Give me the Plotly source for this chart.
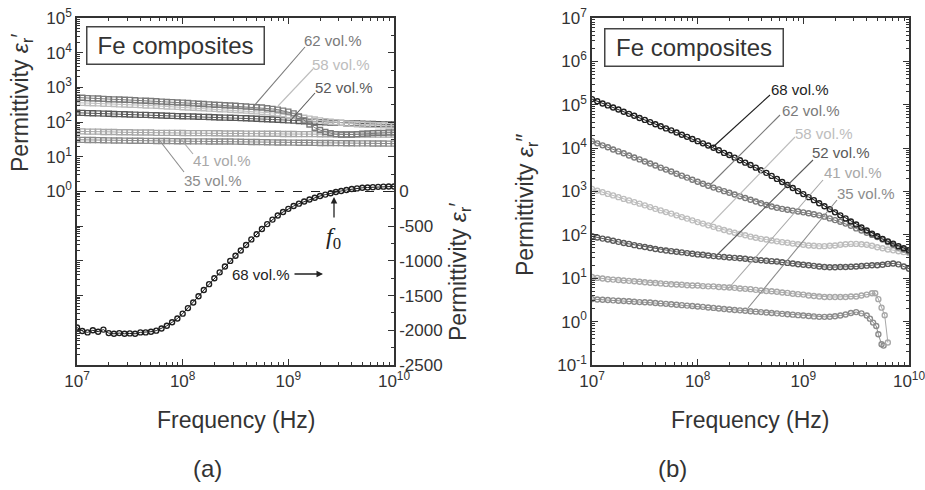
import numpy as np
import plotly.graph_objects as go

# ---------------- data ----------------
# frequency sweep (Hz), 0.05-decade steps from 1e7 to 1e10
FREQ = list(np.logspace(7, 10, 61))
TAIL41_F = [4.79e9, 5.13e9, 5.50e9, 5.89e9, 6.31e9]
TAIL35_F = [4.27e9, 4.57e9, 4.90e9, 5.13e9, 5.50e9, 5.75e9]

# (a) real permittivity eps_r' (left log axis)
EPS1_62 = [513, 501, 490, 484, 479, 468, 457, 452, 447, 442, 437, 427, 417, 412, 407, 398, 389, 380, 376, 367,
           363, 355, 347, 339, 331, 324, 316, 313, 305, 302, 295, 288, 282, 275, 269, 263, 251, 240, 229, 214,
           200, 178, 145, 112, 85, 69, 59, 52, 48, 45, 44, 44, 44, 45, 46, 47, 48, 49, 49, 50, 50]
EPS1_58 = [363, 359, 355, 351, 347, 339, 335, 331, 324, 320, 316, 313, 309, 302, 299, 295, 288, 282, 279, 275,
           269, 263, 260, 254, 251, 245, 240, 234, 232, 226, 224, 219, 214, 209, 204, 197, 191, 184, 178, 168,
           158, 150, 141, 133, 126, 119, 112, 107, 102, 99, 95, 92, 89, 87, 85, 84, 83, 82, 81, 80, 79]
EPS1_52 = [186, 184, 182, 180, 178, 176, 174, 172, 170, 168, 166, 164, 162, 161, 159, 157, 155, 153, 151, 149,
           148, 146, 145, 143, 141, 140, 138, 136, 135, 133, 132, 130, 129, 127, 125, 123, 121, 119, 117, 115,
           112, 110, 108, 106, 104, 102, 100, 98, 97, 96, 95, 93, 92, 91, 90, 89, 88, 87, 86, 86, 85]
EPS1_41 = [54, 54, 53, 53, 53, 52, 52, 52, 51, 51, 51, 50, 50, 50, 50, 49, 49, 49, 49, 49,
           48.5, 48, 48, 48, 48, 48, 47.5, 47.5, 47, 47, 47, 47, 46.5, 46.5, 46.5, 46, 46, 46, 46, 45.5,
           45.5, 45.5, 45, 45, 45, 45, 44.5, 44.5, 44.5, 44.5, 44, 44, 44, 44, 44, 44, 43.5, 43.5, 43.5, 43.5, 43.5]
EPS1_35 = [31, 30.8, 30.6, 30.4, 30.2, 30.0, 29.8, 29.6, 29.4, 29.3, 29.1, 29.0, 28.9, 28.8, 28.7, 28.6, 28.5,
           28.4, 28.3, 28.2, 28.1, 28.0, 27.9, 27.8, 27.8, 27.7, 27.6, 27.6, 27.5, 27.5, 27.4, 27.2, 27.0, 26.8,
           26.6, 26.4, 26.2, 26.0, 25.9, 25.8, 25.7, 25.6, 25.5, 25.4, 25.3, 25.2, 25.1, 25.0, 24.9, 24.8, 24.7,
           24.6, 24.5, 24.4, 24.3, 24.3, 24.2, 24.1, 24.1, 24.0, 24.0]
# 68 vol.% on the right linear axis
EPS1_68 = [-1960, -2010, -2030, -2000, -2020, -1990, -2040, -2050, -2040, -2050, -2045, -2050, -2030, -2030,
           -2020, -2005, -1975, -1935, -1885, -1830, -1760, -1680, -1600, -1510, -1420, -1335, -1250, -1165,
           -1080, -1000, -925, -850, -770, -690, -615, -540, -470, -405, -345, -295, -250, -210, -175, -145,
           -115, -90, -65, -45, -25, -8, 8, 22, 35, 45, 53, 58, 63, 67, 70, 72, 73]

# (b) imaginary permittivity eps_r''
EPS2_68 = [135000, 120000, 107000, 96600, 86100, 77600, 69200, 61700, 55600, 49500, 44700, 39800, 35500, 32000,
           28500, 25700, 22900, 20400, 18200, 16200, 14500, 12900, 11500, 10200, 8910, 7760, 6920, 6030, 5250,
           4620, 4070, 3550, 3090, 2690, 2290, 1950, 1660, 1410, 1200, 1020, 871, 741, 631, 537, 457, 389, 331,
           282, 240, 204, 174, 148, 126, 107, 93, 81, 71, 63, 55, 49, 44]
EPS2_62 = [14500, 12900, 11600, 10500, 9330, 8410, 7590, 6760, 6100, 5500, 4900, 4420, 3980, 3550, 3200, 2880,
           2570, 2320, 2090, 1860, 1680, 1510, 1360, 1230, 1120, 1020, 933, 851, 776, 708, 646, 589, 537, 490,
           452, 422, 398, 380, 363, 347, 331, 316, 299, 282, 263, 240, 219, 200, 182, 162, 141, 126, 112, 100,
           89, 78, 68, 59, 51, 46, 41]
EPS2_58 = [1150, 1050, 966, 881, 813, 741, 676, 624, 569, 525, 479, 437, 398, 367, 335, 309, 282, 257, 237, 216,
           197, 182, 166, 153, 141, 130, 120, 112, 105, 98, 91, 86, 81, 78, 74, 71, 68, 66, 63, 61,
           59, 57, 56, 55, 55, 56, 57, 59, 61, 62, 62, 61, 59, 56, 52, 49, 46, 44, 42, 40, 38]
EPS2_52 = [93, 87, 82, 78, 73, 69, 65, 62, 58, 55, 52.5, 50, 47.3, 45.2, 43.7, 42.2, 40.7, 39.4, 38.0, 36.7,
           35.5, 34.7, 33.5, 32.4, 31.6, 30.9, 30.2, 29.5, 28.8, 28.2, 27.2, 26.6, 26.0, 25.4, 24.8, 24.3, 23.4,
           22.6, 21.9, 21.1, 20.4, 20.0, 19.3, 18.6, 18.2, 18.0, 18.0, 18.2, 18.2, 18.4, 18.6, 19.1, 19.5, 20.0,
           20.0, 20.4, 21.4, 21.9, 20.9, 18.6, 16.6]
EPS2_41 = [10.7, 10.2, 9.9, 9.5, 9.3, 9.1, 8.9, 8.7, 8.5, 8.3, 8.1, 7.9, 7.8, 7.6, 7.4, 7.3, 7.2, 7.1, 6.9, 6.8,
           6.8, 6.6, 6.5, 6.5, 6.3, 6.2, 6.1, 6.0, 5.8, 5.7, 5.6, 5.4, 5.2, 5.1, 5.0, 4.9, 4.7, 4.6, 4.4, 4.3,
           4.2, 4.0, 3.9, 3.8, 3.7, 3.7, 3.7, 3.7, 3.7, 3.8, 3.8, 4.0, 4.2, 4.5]
EPS2_41_TAIL = [4.5, 3.3, 2.1, 1.4, 0.33]
EPS2_35 = [3.31, 3.24, 3.20, 3.16, 3.09, 3.02, 2.99, 2.95, 2.88, 2.82, 2.79, 2.75, 2.69, 2.63, 2.57, 2.51, 2.45,
           2.40, 2.34, 2.29, 2.24, 2.19, 2.11, 2.07, 2.00, 1.95, 1.91, 1.86, 1.82, 1.78, 1.74, 1.70, 1.66, 1.62,
           1.58, 1.55, 1.51, 1.48, 1.45, 1.41, 1.38, 1.35, 1.32, 1.29, 1.29, 1.30, 1.33, 1.38, 1.46, 1.58, 1.66,
           1.55, 1.38]
EPS2_35_TAIL = [1.17, 0.95, 0.79, 0.51, 0.30, 0.28]

LABELS = ["68 vol.%", "62 vol.%", "58 vol.%", "52 vol.%", "41 vol.%", "35 vol.%"]

# ---------------- styling ----------------
FONT = "Arial, Liberation Sans, sans-serif"
TXT = "#333333"
C68, C62, C58, C52, C41, C35 = "#1e1e1e", "#7a7a7a", "#bdbdbd", "#5a5a5a", "#a8a8a8", "#8c8c8c"

W, H = 925, 490
ML, MR, MT, MB = 77, 16, 18, 125
PW, PH = W - ML - MR, H - MT - MB


def P(px, py):
    return (px - ML) / PW, (MT + PH - py) / PH


fig = go.Figure()


def add(x, y, color, xa, ya, sym, size=5, name=""):
    fig.add_trace(go.Scatter(
        x=x, y=y, mode="lines+markers", xaxis=xa, yaxis=ya, name=name, showlegend=False,
        line=dict(color=color, width=1),
        marker=dict(symbol=sym, size=size, color=color, line=dict(color=color, width=1.4)),
    ))


# panel (a)
add(FREQ, EPS1_35, C35, "x", "y", "square-open", name="35")
add(FREQ, EPS1_41, C41, "x", "y", "square-open", name="41")
add(FREQ, EPS1_52, C52, "x", "y", "square-open", name="52")
add(FREQ, EPS1_58, C58, "x", "y", "square-open", name="58")
add(FREQ, EPS1_62, C62, "x", "y", "square-open", name="62")
add(FREQ, EPS1_68, C68, "x", "y2", "circle-open", name="68")

# panel (b)
add(FREQ[:len(EPS2_35)] + TAIL35_F, EPS2_35 + EPS2_35_TAIL, C35, "x2", "y3", "circle-open", name="35")
add(FREQ[:len(EPS2_41)] + TAIL41_F, EPS2_41 + EPS2_41_TAIL, C41, "x2", "y3", "circle-open", name="41")
add(FREQ, EPS2_52, C52, "x2", "y3", "circle-open", name="52")
add(FREQ, EPS2_58, C58, "x2", "y3", "circle-open", name="58")
add(FREQ, EPS2_62, C62, "x2", "y3", "circle-open", name="62")
add(FREQ, EPS2_68, C68, "x2", "y3", "circle-open", name="68")


def sup(e):
    return "10<sup>%d</sup>" % e


def minor_log(lo, hi):
    return [m * 10 ** e for e in range(lo, hi) for m in range(2, 10)]


axline = dict(showline=True, linecolor=TXT, linewidth=1.5, ticks="inside", tickcolor=TXT,
              tickwidth=1.2, ticklen=6, showgrid=False, zeroline=False, automargin=False,
              ticklabeloverflow="allow",
              tickfont=dict(family=FONT, size=17, color=TXT))

XT = [1e7, 1e8, 1e9, 1e10]
XTT = [sup(e) for e in range(7, 11)]
xminor = dict(tickvals=minor_log(7, 10), ticks="inside", ticklen=3, tickcolor=TXT, showgrid=False)

d1 = (0, (394 - ML) / PW)
d2 = ((592 - ML) / PW, 1)

fig.update_layout(
    width=W, height=H, margin=dict(l=ML, r=MR, t=MT, b=MB, autoexpand=False),
    paper_bgcolor="white", plot_bgcolor="white",
    font=dict(family=FONT, color=TXT),
    xaxis=dict(axline, type="log", range=[7, 10], domain=d1, anchor="y", mirror="ticks",
               tickmode="array", tickvals=XT, ticktext=XTT, minor=xminor),
    yaxis=dict(axline, type="log", range=[-5, 5], domain=[0, 1], anchor="x",
               tickmode="array", tickvals=[10.0 ** e for e in range(-5, 6)],
               ticktext=["" if e < 0 else sup(e) for e in range(-5, 6)],
               minor=dict(tickvals=minor_log(-5, 5), ticks="inside", ticklen=3, tickcolor=TXT, showgrid=False)),
    yaxis2=dict(axline, overlaying="y", side="right", anchor="x", range=[-2500, 2500],
                tickmode="array", tickvals=list(range(-2500, 2501, 500)),
                ticktext=[str(v) if v <= 0 else "" for v in range(-2500, 2501, 500)],
                minor=dict(dtick=250, ticks="inside", ticklen=3, tickcolor=TXT, showgrid=False)),
    xaxis2=dict(axline, type="log", range=[7, 10], domain=d2, anchor="y3", mirror="ticks",
                tickmode="array", tickvals=XT, ticktext=XTT, minor=xminor),
    yaxis3=dict(axline, type="log", range=[-1, 7], domain=[0, 1], anchor="x2", mirror="ticks",
                tickmode="array", tickvals=[10.0 ** e for e in range(-1, 8)],
                ticktext=[sup(e) for e in range(-1, 8)],
                minor=dict(tickvals=minor_log(-1, 7), ticks="inside", ticklen=3, tickcolor=TXT, showgrid=False)),
)

ann = []
shapes = []


def text(px, py, s, size=15, color=TXT, angle=0, **kw):
    x, y = P(px, py)
    ann.append(dict(x=x, y=y, xref="paper", yref="paper", text=s, showarrow=False, textangle=angle,
                    xanchor="center", yanchor="middle",
                    font=dict(family=kw.pop("family", FONT), size=size, color=color), **kw))


def seg(p0, p1, color, width=1.1):
    x0, y0 = P(*p0)
    x1, y1 = P(*p1)
    shapes.append(dict(type="line", xref="paper", yref="paper", x0=x0, y0=y0, x1=x1, y1=y1,
                       line=dict(color=color, width=width)))


def arrow(tip, ax, ay, color=TXT):
    x, y = P(*tip)
    ann.append(dict(x=x, y=y, xref="paper", yref="paper", text="", showarrow=True, ax=ax, ay=ay,
                    arrowhead=2, arrowsize=1, arrowwidth=1.3, arrowcolor=color, standoff=0, startstandoff=0))


# axis titles
text(22, 103, "Permittivity <i>ε</i><sub>r</sub>′", size=23, angle=-90)
text(459, 272, "Permittivity <i>ε</i><sub>r</sub>′", size=23, angle=-90)
text(526, 205, "Permittivity <i>ε</i><sub>r</sub>″", size=23, angle=-90)
text(236, 420, "Frequency (Hz)", size=23)
text(750, 420, "Frequency (Hz)", size=23)
text(207, 468, "(a)", size=24)
text(672, 468, "(b)", size=24)

# boxes
text(175, 46, "Fe composites", size=24, bordercolor="#444", borderwidth=1.5, width=174, height=34)
text(694, 47, "Fe composites", size=24, bordercolor="#444", borderwidth=1.5, width=175, height=34)

# dashed zero line in (a)
x0, _ = P(77, 192)
x1, _ = P(394, 192)
shapes.append(dict(type="line", xref="paper", yref="paper", x0=x0, x1=x1, y0=0.5, y1=0.5,
                   line=dict(color="#222", width=1.2, dash="dash")))

# panel (a) labels
text(333, 40, LABELS[1], color=C62)
seg((305, 47), (253, 107), C62)
text(341, 64, LABELS[2], color=C58)
seg((313, 69), (278, 106), C58)
text(344, 87, LABELS[3], color=C52)
seg((315, 93), (290, 121), C52)
text(222, 160, LABELS[4], color=C41)
seg((193, 154), (180, 138), C41)
text(213, 180, LABELS[5], color=C35)
seg((184, 172), (160, 141), C35)
text(261, 274, LABELS[0], color="#222")
arrow((323, 274), -30, 0, "#222")
text(333, 238, "<i>f</i><sub>0</sub>", size=24, family="Liberation Serif, Times New Roman, serif", color="#222")
arrow((334, 197), 0, 22, "#222")

# panel (b) labels
lab_b = [
    (800, 89, C68, (770, 95), (713, 147)),
    (811, 110, C62, (780, 115), (710, 185)),
    (824, 133, C58, (795, 137), (710, 225)),
    (841, 152, C52, (813, 160), (717, 255)),
    (853, 173, C41, (823, 180), (728, 289)),
    (866, 193, C35, (837, 200), (748, 308)),
]
for lab, (tx, ty, col, a, b) in zip(LABELS, lab_b):
    text(tx, ty, lab, color=col)
    seg(a, b, col)

fig.update_layout(annotations=ann, shapes=shapes)
fig.write_html("out.html", config={"displayModeBar": False},
               post_script="document.body.style.margin='0px';")
